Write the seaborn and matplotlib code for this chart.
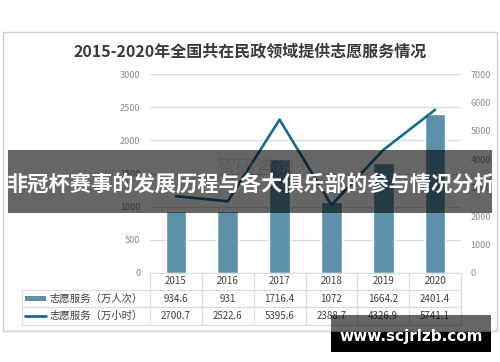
import numpy as np
import pandas as pd
import matplotlib.pyplot as plt
from matplotlib.patches import Rectangle
from matplotlib.lines import Line2D
import seaborn as sns

sns.set_style("white")
plt.rcParams['font.family'] = ['Noto Sans CJK SC', 'DejaVu Sans']

# data
years = ['2015', '2016', '2017', '2018', '2019', '2020']
service_times = [934.6, 931, 1716.4, 1072, 1664.2, 2401.4]      # 万人次
service_hours = [2700.7, 2522.6, 5395.6, 2388.7, 4326.9, 5741.1]  # 万小时
times_labels = ['934.6', '931', '1716.4', '1072', '1664.2', '2401.4']
hours_labels = ['2700.7', '2522.6', '5395.6', '2388.7', '4326.9', '5741.1']
series_names = ['志愿服务（万人次）', '志愿服务（万小时）']
title = '2015-2020年全国共在民政领域提供志愿服务情况'
banner = '非冠杯赛事的发展历程与各大俱乐部的参与情况分析'
site = 'www.scjrlzb.com'

bar_color = '#5d91aa'
line_color = '#1a6a8b'
text_color = '#404040'
tick_color = '#8a8a8a'
grid_color = '#dcdcdc'

df = pd.DataFrame({'year': years, 'times': service_times, 'hours': service_hours})
df['pos'] = np.arange(len(df))

W, H = 500, 362
fig = plt.figure(figsize=(W / 100, H / 100), dpi=100)


def fx(x):
    return x / W


def fy(y):
    return 1 - y / H


ax_l, ax_r, ax_t, ax_b = 150, 461, 74, 273
ax = fig.add_axes([fx(ax_l), fy(ax_b), fx(ax_r) - fx(ax_l), fy(ax_t) - fy(ax_b)])

sns.barplot(data=df, x='year', y='times', color=bar_color, saturation=1,
            width=0.4, ax=ax, zorder=2)
ax.set_ylim(0, 3000)
ax.set_yticks(np.arange(0, 3001, 500))
ax.set_xlim(-0.5, len(years) - 0.5)
ax.grid(axis='y', color=grid_color, linewidth=0.9, zorder=0)
ax.set_axisbelow(True)
ax.set_xlabel('')
ax.set_ylabel('')
ax.set_xticks([])
for s in ax.spines.values():
    s.set_visible(False)
ax.tick_params(axis='y', length=0, pad=7, labelsize=6.5, labelcolor=tick_color)

ax2 = ax.twinx()
sns.lineplot(data=df, x='pos', y='hours', color=line_color, linewidth=1.9,
             sort=False, ax=ax2, zorder=3)
ax2.set_ylim(0, 7000)
ax2.set_yticks(np.arange(0, 7001, 1000))
ax2.set_xlim(-0.5, len(years) - 0.5)
ax2.set_ylabel('')
ax2.set_xlabel('')
for s in ax2.spines.values():
    s.set_visible(False)
ax2.tick_params(axis='y', length=0, pad=7, labelsize=6.5, labelcolor=tick_color)

# outer chart border
fig.add_artist(Rectangle((fx(3), fy(331)), fx(497) - fx(3), fy(32) - fy(331),
                         transform=fig.transFigure, fill=False,
                         edgecolor='#cfcfcf', linewidth=1))

fig.text(fx(250), fy(52), title, ha='center', va='center', fontsize=11.5,
         fontweight='bold', color='#3a3a3a')

# data table under the plot
n = len(years)
col_x = [ax_l + i * (ax_r - ax_l) / n for i in range(n + 1)]
row_y = [273, 289.5, 307, 325]
tl = 22
line_kw = dict(color=grid_color, linewidth=0.9, transform=fig.transFigure)
fig.add_artist(Line2D([fx(ax_l), fx(ax_r)], [fy(row_y[0])] * 2, **line_kw))
for y in row_y[1:]:
    fig.add_artist(Line2D([fx(tl), fx(ax_r)], [fy(y)] * 2, **line_kw))
for x in col_x:
    fig.add_artist(Line2D([fx(x)] * 2, [fy(row_y[0]), fy(row_y[3])], **line_kw))
fig.add_artist(Line2D([fx(tl)] * 2, [fy(row_y[1]), fy(row_y[3])], **line_kw))

for i in range(n):
    cx = fx((col_x[i] + col_x[i + 1]) / 2)
    fig.text(cx, fy(281.5), years[i], ha='center', va='center', fontsize=7, color=text_color)
    fig.text(cx, fy(298.5), times_labels[i], ha='center', va='center', fontsize=7, color=text_color)
    fig.text(cx, fy(316), hours_labels[i], ha='center', va='center', fontsize=7, color=text_color)

fig.add_artist(Rectangle((fx(25), fy(301)), fx(46) - fx(25), fy(296) - fy(301),
                         transform=fig.transFigure, facecolor=bar_color, edgecolor='none'))
fig.add_artist(Line2D([fx(25), fx(46)], [fy(316)] * 2, color=line_color, linewidth=2,
                      transform=fig.transFigure))
fig.text(fx(49), fy(298.5), series_names[0], ha='left', va='center', fontsize=7.5, color=text_color)
fig.text(fx(49), fy(316), series_names[1], ha='left', va='center', fontsize=7.5, color=text_color)

# faint watermark behind the banner
fig.text(fx(255), fy(168), '智研咨询', ha='center', va='center', fontsize=14,
         color='#c4c4c4', alpha=0.5, zorder=4)

# overlay banner
fig.add_artist(Rectangle((fx(8), fy(213)), fx(492) - fx(8), fy(150) - fy(213),
                         transform=fig.transFigure, facecolor='black', alpha=0.6,
                         edgecolor='none', zorder=5))
fig.text(fx(250), fy(184), banner, ha='center', va='center', fontsize=15.3,
         fontweight='bold', color='white', zorder=6)

# site stamp
fig.add_artist(Rectangle((fx(331), fy(332)), fx(491) - fx(331), fy(315) - fy(332),
                         transform=fig.transFigure, facecolor='black', alpha=0.6,
                         edgecolor='none', zorder=5))
fig.add_artist(Rectangle((fx(331), fy(352)), fx(491) - fx(331), fy(332) - fy(352),
                         transform=fig.transFigure, facecolor='black',
                         edgecolor='none', zorder=5))
fig.text(fx(411), fy(337), site, ha='center', va='center', fontsize=11,
         fontweight='bold', color='white', family='DejaVu Sans', zorder=6)

fig.savefig('out.png', dpi=100)
